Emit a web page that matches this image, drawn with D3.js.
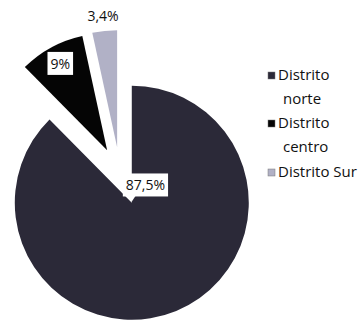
<!DOCTYPE html>
<html>
<head>
<meta charset="utf-8">
<script src="https://cdn.jsdelivr.net/npm/d3@7"></script>
<style>
  html, body { margin: 0; padding: 0; background: #ffffff; }
  svg { display: block; }
  text { font-family: "Open Sans", sans-serif; }
</style>
</head>
<body>
<svg id="chart" width="360" height="322"></svg>
<script>
// ---- data ----
const categories = ["Distrito norte", "Distrito centro", "Distrito Sur"];
const values = [87.5, 9, 3.4];
const valueLabels = ["87,5%", "9%", "3,4%"];
const legendLines = [["Distrito", "norte"], ["Distrito", "centro"], ["Distrito Sur"]];

// ---- styles ----
const colors = ["#2b2938", "#050505", "#b1b1c6"];
const explode = [31, 27, 27];

const svg = d3.select("#chart");
const cx = 120, cy = 174, R = 117;

const pie = d3.pie().sort(null).startAngle(0).endAngle(2 * Math.PI).value(d => d);
const arcs = pie(values);
const arc = d3.arc().innerRadius(0).outerRadius(R);

const g = svg.append("g").attr("transform", `translate(${cx},${cy})`);

function offset(a, d) {
  const m = (a.startAngle + a.endAngle) / 2;
  return [d * Math.sin(m), -d * Math.cos(m)];
}

const slices = g.selectAll("g.slice").data(arcs).enter().append("g")
  .attr("class", "slice")
  .attr("transform", (a, i) => { const o = offset(a, explode[i]); return `translate(${o[0]},${o[1]})`; });

slices.append("path")
  .attr("d", arc)
  .attr("fill", (a, i) => colors[i]);

// ---- labels ----
function polar(r, ang) { return [r * Math.sin(ang), -r * Math.cos(ang)]; }
const mid = a => (a.startAngle + a.endAngle) / 2;
const labelPlace = [
  a => polar(22, 0.67),
  a => polar(R * 0.84, mid(a)),
  a => polar(R * 1.13, mid(a))
];
const labelBox = [true, true, false];

slices.each(function(a, i) {
  const s = d3.select(this);
  const p = labelPlace[i](a);
  const lg = s.append("g").attr("transform", `translate(${p[0]},${p[1]})`);
  const t = lg.append("text")
    .attr("text-anchor", "middle")
    .attr("dy", "0.36em")
    .attr("font-size", 14)
    .attr("fill", "#111111")
    .text(valueLabels[i]);
  if (labelBox[i]) {
    const bb = t.node().getBBox();
    const padX = 3, padY = 2;
    if (i === 0) {
      lg.insert("path", "text")
        .attr("d", `M${bb.x + 2},${bb.y + bb.height + padY - 1} L${bb.x + 6},${bb.y + bb.height + padY + 5} L${bb.x + 10},${bb.y + bb.height + padY - 1}Z`)
        .attr("fill", "#ffffff");
    }
    lg.insert("rect", "text")
      .attr("x", bb.x - padX).attr("y", bb.y - padY)
      .attr("width", bb.width + 2 * padX).attr("height", bb.height + 2 * padY)
      .attr("fill", "#ffffff");
  }
});

// ---- legend ----
const legend = svg.append("g").attr("transform", "translate(268,0)");
const baselines = [[80, 104], [128, 152], [177]];
legendLines.forEach((lines, i) => {
  const b = baselines[i];
  legend.append("rect")
    .attr("x", 0).attr("y", b[0] - 8)
    .attr("width", 7).attr("height", 7)
    .attr("fill", colors[i])
    .attr("stroke", "#777").attr("stroke-width", 0.5);
  lines.forEach((ln, j) => {
    legend.append("text")
      .attr("x", j === 0 ? 10 : 15)
      .attr("y", b[j])
      .attr("font-size", 15)
      .attr("fill", "#111111")
      .text(ln);
  });
});
</script>
</body>
</html>
